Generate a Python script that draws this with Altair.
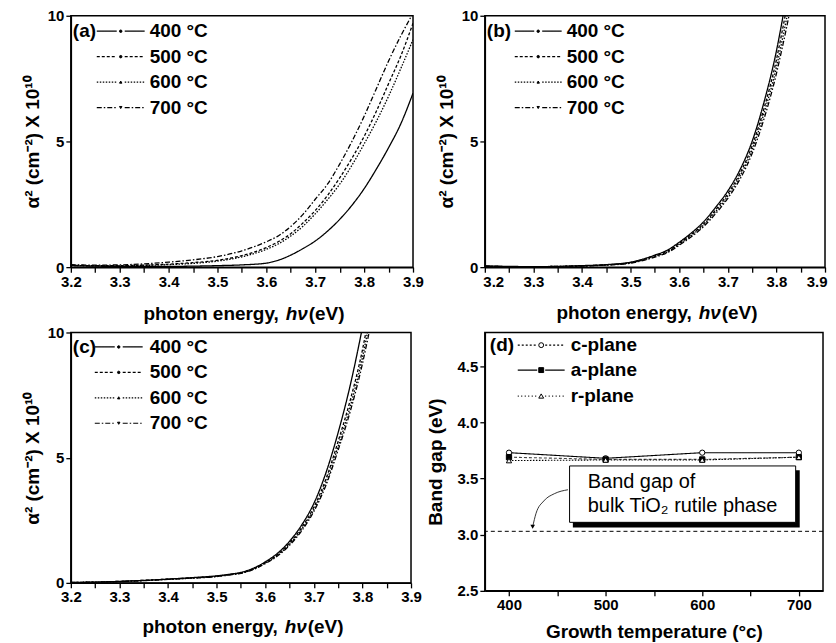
import altair as alt
import pandas as pd

# ---------------- data ----------------
series = ["400 °C", "500 °C", "600 °C", "700 °C"]

hv_a = [3.20, 3.25, 3.30, 3.35, 3.40, 3.45, 3.50, 3.55, 3.60, 3.625, 3.65, 3.675,
        3.70, 3.725, 3.75, 3.775, 3.80, 3.825, 3.85, 3.875, 3.90]
a_400 = [0.06, 0.04, 0.03, 0.03, 0.03, 0.04, 0.06, 0.09, 0.16, 0.28, 0.48, 0.74,
         1.04, 1.43, 1.90, 2.46, 3.12, 3.90, 4.75, 5.70, 6.92]
a_500 = [0.08, 0.06, 0.06, 0.08, 0.12, 0.18, 0.27, 0.46, 0.78, 1.02, 1.33, 1.76,
         2.25, 2.85, 3.55, 4.33, 5.20, 6.20, 7.30, 8.40, 9.70]
a_600 = [0.07, 0.05, 0.05, 0.07, 0.10, 0.15, 0.24, 0.41, 0.71, 0.93, 1.24, 1.63,
         2.12, 2.68, 3.30, 4.05, 4.90, 5.80, 6.80, 7.90, 9.05]
a_700 = [0.10, 0.08, 0.09, 0.13, 0.20, 0.29, 0.42, 0.65, 1.01, 1.25, 1.62, 2.10,
         2.70, 3.30, 4.10, 5.00, 6.00, 7.10, 8.20, 9.20, 10.10]

hv_bc = [3.20, 3.25, 3.30, 3.35, 3.40, 3.45, 3.50, 3.525, 3.55, 3.575, 3.60, 3.625,
         3.65, 3.675, 3.70, 3.725, 3.75, 3.775, 3.80, 3.81, 3.82, 3.83]
b_400 = [0.05, 0.03, 0.02, 0.03, 0.06, 0.10, 0.20, 0.32, 0.48, 0.67, 0.99, 1.36,
         1.80, 2.38, 3.03, 3.87, 5.00, 6.60, 8.60, 9.60, 10.70, 11.80]
b_500 = [0.04, 0.02, 0.02, 0.03, 0.05, 0.09, 0.18, 0.30, 0.45, 0.63, 0.94, 1.30,
         1.72, 2.28, 2.92, 3.73, 4.82, 6.35, 8.25, 9.20, 10.20, 11.20]
b_600 = [0.04, 0.02, 0.02, 0.03, 0.05, 0.09, 0.17, 0.28, 0.43, 0.60, 0.91, 1.26,
         1.67, 2.21, 2.83, 3.62, 4.67, 6.15, 7.95, 8.85, 9.80, 10.80]
b_700 = [0.03, 0.02, 0.01, 0.02, 0.04, 0.08, 0.16, 0.26, 0.40, 0.57, 0.87, 1.21,
         1.61, 2.13, 2.74, 3.50, 4.52, 5.93, 7.70, 8.55, 9.45, 10.40]

c_400 = [0.02, 0.03, 0.06, 0.10, 0.15, 0.21, 0.28, 0.34, 0.42, 0.58, 0.84, 1.18,
         1.66, 2.31, 3.17, 4.40, 6.00, 7.90, 10.20, 11.20, 12.20, 13.20]
c_500 = [0.02, 0.03, 0.06, 0.10, 0.15, 0.20, 0.27, 0.33, 0.40, 0.56, 0.81, 1.13,
         1.59, 2.21, 3.02, 4.15, 5.65, 7.30, 9.30, 10.30, 11.30, 12.30]
c_600 = [0.02, 0.03, 0.05, 0.09, 0.14, 0.19, 0.26, 0.32, 0.39, 0.54, 0.79, 1.10,
         1.54, 2.14, 2.93, 4.00, 5.45, 7.05, 9.00, 9.95, 10.90, 11.90]
c_700 = [0.01, 0.02, 0.05, 0.09, 0.14, 0.19, 0.25, 0.31, 0.38, 0.53, 0.77, 1.07,
         1.50, 2.08, 2.85, 3.90, 5.30, 6.85, 8.75, 9.65, 10.60, 11.60]

planes = ["c-plane", "a-plane", "r-plane"]
temps = [400, 500, 600, 700]
gap_c = [3.73, 3.68, 3.73, 3.73]
gap_a = [3.69, 3.67, 3.67, 3.69]
gap_r = [3.66, 3.665, 3.665, 3.69]
bulk_gap = [3.03]

note_lines = ["Band gap of", "bulk TiO₂ rutile phase"]
xtitle_parts = ["photon energy,", "hν", "(eV)"]

# ---------------- styles ----------------
F = "Liberation Sans"
DASHES = [[1, 0], [3, 2], [1.5, 1.5], [5, 2, 1.5, 2]]
LEG_SHAPES = ["circle", "circle", "triangle-up", "triangle-down"]
dummy = pd.DataFrame({"k": [0]})


def txt(text, x, y, align="left", size=19, weight="bold", style="normal"):
    return alt.Chart(dummy).mark_text(text=text, align=align, baseline="middle", font=F,
                                      fontSize=size, fontWeight=weight, fontStyle=style,
                                      color="black").encode(x=alt.value(x), y=alt.value(y))


def legend_layers(tag, tag_x, x0, x1, xt, ys, dashes, shapes, fills, msize, labels):
    out = [txt(tag, tag_x, ys[0])]
    for y, d, sh, fl, lab in zip(ys, dashes, shapes, fills, labels):
        xm = (x0 + x1) / 2
        for a, b in [(x0, xm - 4), (xm + 4, x1)]:
            out.append(alt.Chart(dummy).mark_rule(color="black", strokeWidth=1.2, strokeDash=d)
                       .encode(x=alt.value(a), x2=alt.value(b), y=alt.value(y)))
        out.append(alt.Chart(dummy).mark_point(shape=sh, size=msize, filled=True, fill=fl,
                                               stroke="black", strokeWidth=1, opacity=1)
                   .encode(x=alt.value(xm), y=alt.value(y)))
        out.append(txt(lab, xt, y))
    return out


x_ticks = [round(3.2 + 0.05 * i, 2) for i in range(15)]


def absorb_panel(hv, curves, tag, w, h, leg, title_off, flush=False):
    rows = []
    for s, vals in zip(series, curves):
        for x, v in zip(hv, vals):
            rows.append({"hv": x, "v": v, "s": s})
    df = pd.DataFrame(rows)
    xaxis = dict(values=x_ticks, title=None,
                 labelExpr="abs(datum.value*10 - round(datum.value*10)) < 0.01 ? format(datum.value, '.1f') : ''",
                 labelOverlap=False, labelFlush=flush)
    if flush:
        xaxis["labelFlushOffset"] = 2
    base = alt.Chart(df).mark_line(color="black", strokeWidth=1.3, clip=True,
                                   interpolate="monotone").encode(
        x=alt.X("hv:Q", scale=alt.Scale(domain=[3.2, 3.9], nice=False, zero=False),
                axis=alt.Axis(**xaxis)),
        y=alt.Y("v:Q", scale=alt.Scale(domain=[0, 10], nice=False),
                axis=alt.Axis(values=[0, 5, 10], format="d", title="α² (cm⁻²) X 10¹⁰",
                              titlePadding=5)),
        strokeDash=alt.StrokeDash("s:N", scale=alt.Scale(domain=series, range=DASHES), legend=None),
        detail="s:N",
    )
    lx0, lx1, ltx, lys = leg
    cx = w / 2
    ty = h + title_off
    title = [txt(xtitle_parts[0], cx + 37, ty, align="right"),
             txt(xtitle_parts[1], cx + 55, ty, align="center", style="italic"),
             txt(xtitle_parts[2], cx + 67, ty, align="left")]
    layers = [base] + legend_layers(tag, 2, lx0, lx1, ltx, lys, DASHES, LEG_SHAPES,
                                    ["black"] * 4, 6, series) + title
    return alt.layer(*layers).properties(width=w, height=h)


pa = absorb_panel(hv_a, [a_400, a_500, a_600, a_700], "(a)", 343, 252,
                  (26, 74, 79, [15.5, 41, 66.5, 92]), 46.5)
pb = absorb_panel(hv_bc, [b_400, b_500, b_600, b_700], "(b)", 341, 252,
                  (30, 77, 82, [15.5, 41, 66.5, 92]), 45.5, flush=True)
pc = absorb_panel(hv_bc, [c_400, c_500, c_600, c_700], "(c)", 341, 251,
                  (24, 72, 79, [14.5, 40, 65.5, 91]), 44.5)

# ---- panel d ----
rows = []
for p, vals in zip(planes, [gap_c, gap_a, gap_r]):
    for t, g in zip(temps, vals):
        rows.append({"T": t, "g": g, "p": p})
dfd = pd.DataFrame(rows)

xd = alt.X("T:Q", scale=alt.Scale(domain=[375, 725], nice=False, zero=False),
           axis=alt.Axis(values=[400, 450, 500, 550, 600, 650, 700], format="d",
                         labelExpr="datum.value % 100 == 0 ? datum.label : ''",
                         title="Growth temperature (°c)", titlePadding=10))
yd = alt.Y("g:Q", scale=alt.Scale(domain=[2.5, 4.8], nice=False, zero=False),
           axis=alt.Axis(values=[2.5, 2.75, 3.0, 3.25, 3.5, 3.75, 4.0, 4.25, 4.5, 4.75],
                         labelExpr="(datum.value*2) % 1 == 0 ? format(datum.value, '.1f') : ''",
                         title="Band gap (eV)", titlePadding=12))

PD_DASH = [[2, 2], [1, 0], [1, 2.5]]
PD_SHAPE = ["circle", "square", "triangle-up"]
PD_FILL = ["white", "black", "white"]

d_lines = alt.Chart(dfd).mark_line(strokeWidth=1.1).encode(
    x=xd, y=yd,
    strokeDash=alt.StrokeDash("p:N", scale=alt.Scale(domain=planes, range=PD_DASH), legend=None),
    color=alt.Color("p:N", scale=alt.Scale(domain=planes, range=["black", "#444444", "black"]), legend=None),
)
d_pts = alt.Chart(dfd).mark_point(filled=True, stroke="black", strokeWidth=1, opacity=1, size=28).encode(
    x="T:Q", y="g:Q",
    shape=alt.Shape("p:N", scale=alt.Scale(domain=planes, range=PD_SHAPE), legend=None),
    fill=alt.Fill("p:N", scale=alt.Scale(domain=planes, range=PD_FILL), legend=None),
)
d_bulk = alt.Chart(pd.DataFrame({"g": bulk_gap})).mark_rule(
    color="black", strokeWidth=1, strokeDash=[4, 3]).encode(y="g:Q")

box = pd.DataFrame({"x": [462.7], "x2": [696.7], "y": [3.11], "y2": [3.612]})
shadow = pd.DataFrame({"x": [466.1], "x2": [700.9], "y": [3.065], "y2": [3.574]})
d_shadow = alt.Chart(shadow).mark_rect(color="black").encode(x="x:Q", x2="x2:Q", y="y:Q", y2="y2:Q")
d_box = alt.Chart(box).mark_rect(fill="white", stroke="black", strokeWidth=1).encode(
    x="x:Q", x2="x2:Q", y="y:Q", y2="y2:Q")
note = pd.DataFrame({"x": [481.5, 481.5], "y": [3.465, 3.255], "t": note_lines})
d_note = alt.Chart(note).mark_text(align="left", baseline="middle", font=F, fontSize=20,
                                   color="black").encode(x="x:Q", y="y:Q", text="t:N")
arrow = pd.DataFrame({"x": [461, 447, 436, 428, 424.5], "y": [3.40, 3.365, 3.30, 3.19, 3.07],
                      "o": [0, 1, 2, 3, 4]})
d_arrow = alt.Chart(arrow).mark_line(color="black", strokeWidth=0.8, interpolate="monotone").encode(
    x="x:Q", y="y:Q", order="o:Q")
d_head = alt.Chart(arrow.tail(1)).mark_point(shape="triangle-down", filled=True, color="black",
                                             size=22, opacity=1).encode(x="x:Q", y="y:Q")

d_leg = legend_layers("(d)", 5, 33, 80, 86, [12.7, 37.7, 63.7],
                      PD_DASH, PD_SHAPE, PD_FILL, 24, planes)

pd_ = alt.layer(d_lines, d_pts, d_bulk, d_shadow, d_box, d_note, d_arrow, d_head,
                *d_leg).properties(width=339, height=259)

chart = alt.concat(pa, pb, pc, pd_, columns=2, spacing={"row": 65.5, "column": 72},
                   bounds="flush").properties(
    padding={"left": 14, "top": -1, "right": 0, "bottom": 0}, background="white"
).configure_view(stroke="black", strokeWidth=1.5).configure_axis(
    labelFont=F, labelFontSize=15, labelFontWeight="bold", labelColor="black",
    titleFont=F, titleFontSize=19, titleFontWeight="bold", titleColor="black",
    domainColor="black", domainWidth=1.5, tickColor="black", tickWidth=1.3, tickSize=5,
    labelPadding=2, grid=False,
)

chart.save("out.html", embed_options={"renderer": "svg", "actions": False})
